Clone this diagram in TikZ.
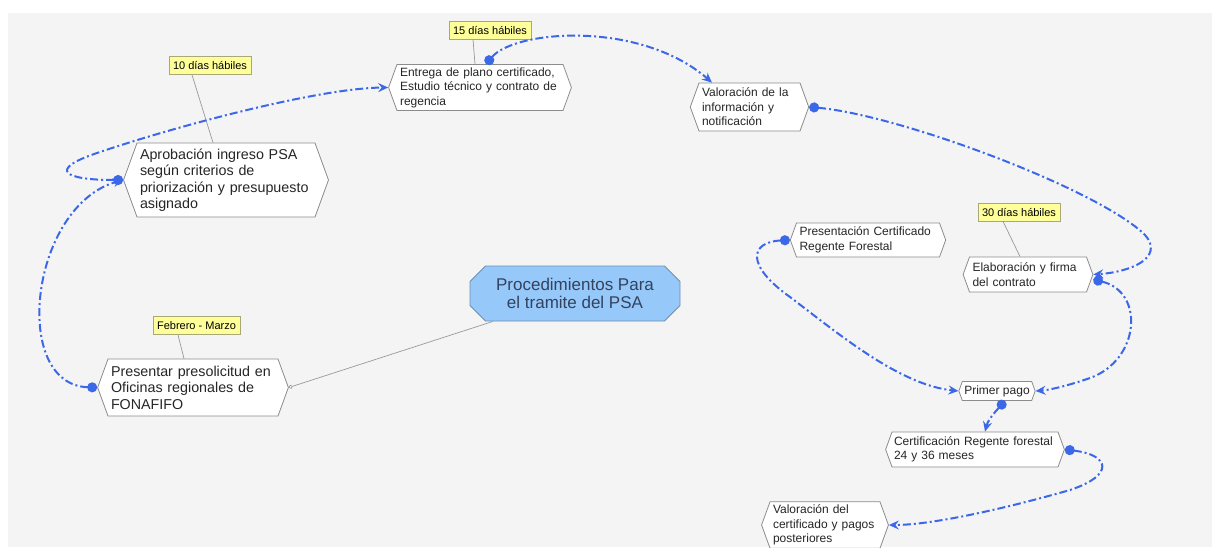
\documentclass[tikz,border=0pt]{standalone}
\usepackage{fontspec}
\setmainfont{Liberation Sans}
\usetikzlibrary{shapes.symbols,shapes.misc,arrows.meta}
\definecolor{bggray}{HTML}{F4F4F4}
\definecolor{flowblue}{HTML}{3B68E8}
\definecolor{boxgray}{HTML}{8C8C8C}
\definecolor{txtgray}{HTML}{262626}
\definecolor{notefill}{HTML}{FFFF99}
\definecolor{noteline}{HTML}{A8A878}
\definecolor{mainfill}{HTML}{96C8FA}
\definecolor{mainline}{HTML}{6D8FB0}
\definecolor{maintext}{HTML}{33435E}
\begin{document}
\begin{tikzpicture}[x=1pt,y=-1pt,
    stepnode/.style={signal,signal to=east and west,signal pointer angle=140,draw=boxgray,line width=0.8pt,fill=white,
      text=txtgray,align=left,inner xsep=3pt,inner ysep=3pt},
    small/.style={stepnode,font=\fontsize{12}{14.5}\selectfont},
    big/.style={stepnode,font=\fontsize{14.3}{16.5}\selectfont},
    note/.style={draw=noteline,fill=notefill,line width=0.7pt,inner xsep=4pt,inner ysep=0pt,minimum height=18pt,
      font=\fontsize{11}{12}\selectfont,text=black},
    noteline/.style={draw=gray!80,line width=0.7pt},
    flow/.style={draw=flowblue,line width=2pt,dash pattern=on 8pt off 3pt on 2pt off 3pt,
      {Circle[length=10pt,fill=flowblue]}-{Stealth[length=10pt,width=9pt,inset=3.5pt,fill=flowblue]}}]
  \useasboundingbox (0,0) rectangle (1212,547);
  \fill[white] (0,0) rectangle (1212,547);
  \fill[bggray] (8,13) rectangle (1212,547);

  % main node
  \node[chamfered rectangle,chamfered rectangle xsep=12pt,draw=mainline,fill=mainfill,line width=0.8pt,
    minimum width=210pt,minimum height=55pt,align=center,text=maintext,
    font=\fontsize{17}{18.5}\selectfont] (main) at (575,293.5) {Procedimientos Para\\el tramite del PSA};

  % steps
  \node[big,text width=164pt,minimum height=57pt] (presentar) at (193,387.5)
    {Presentar presolicitud en\\Oficinas regionales de\\FONAFIFO};
  \node[big,text width=172pt,minimum height=74pt] (aprob) at (226,180)
    {Aprobación ingreso PSA\\según criterios de\\priorización y presupuesto\\asignado};
  \node[small,text width=160pt,minimum height=45pt] (entrega) at (480,87.5)
    {Entrega de plano certificado,\\Estudio técnico y contrato de\\regencia};
  \node[small,text width=95pt,minimum height=48pt] (valor) at (749.5,107)
    {Valoración de la\\información y\\notificación};
  \node[small,text width=137pt,minimum height=34pt] (prescert) at (868,240)
    {Presentación Certificado\\Regente Forestal};
  \node[small,text width=111pt,minimum height=35pt] (elab) at (1028,274.5)
    {Elaboración y firma\\del contrato};
  \node[small,inner xsep=2pt,minimum height=19pt,inner ysep=1pt] (primer) at (997,391) {Primer pago};
  \node[small,text width=162pt,inner xsep=2pt,minimum height=35pt] (cert) at (975,449.5)
    {Certificación Regente forestal\\24 y 36 meses};
  \node[small,text width=104pt,minimum height=46pt] (valcert) at (825,525)
    {Valoración del\\certificado y pagos\\posteriores};

  % time notes
  \node[note] (lab10) at (210,65.5) {10 días hábiles};
  \node[note] (lab15) at (490,30) {15 días hábiles};
  \node[note] (lab30) at (1019,212) {30 días hábiles};
  \node[note] (labfeb) at (196.5,325.5) {Febrero - Marzo};
  \draw[noteline] ([xshift=-18pt]lab10.south) -- ([xshift=-13pt]aprob.north);
  \draw[noteline] ([xshift=-17pt]lab15.south) -- ([xshift=-5pt]entrega.north);
  \draw[noteline] ([xshift=-16pt]lab30.south) -- ([xshift=-8pt]elab.north);
  \draw[noteline] ([xshift=-18.5pt]labfeb.south) -- ([xshift=-9pt]presentar.north);

  \draw[noteline,-{Circle[open,length=4pt,fill=white]}] ([xshift=-82pt]main.south) -- (presentar.east);

  % flow
  \draw[flow] (presentar.west) .. controls (10,385) and (30,205) .. (aprob.west);
  \draw[flow] (aprob.west) .. controls (65,180) and (45,170) .. (100,152)
    .. controls (180,125) and (320,88) .. (entrega.west);
  \draw[flow] ([xshift=6pt]entrega.north) .. controls (515,30) and (640,20) .. ([xshift=-37.5pt]valor.north);
  \draw[flow] (valor.east) .. controls (900,115) and (1100,190) .. (1145,235)
    .. controls (1165,258) and (1130,272) .. (elab.east);
  \draw[flow] ([yshift=-5pt]elab.east) .. controls (1145,292) and (1140,360) .. (1090,378)
    .. controls (1070,385) and (1050,390) .. (primer.east);
  \draw[flow] (prescert.west) .. controls (750,242) and (745,265) .. (790,297)
    .. controls (840,335) and (900,385) .. (primer.west);
  \draw[flow] ([xshift=8pt]primer.south) .. controls (995,412) and (988,420) .. ([xshift=10pt]cert.north);
  \draw[flow] (cert.east) .. controls (1110,455) and (1115,475) .. (1070,490)
    .. controls (1000,510) and (930,525) .. (valcert.east);
\end{tikzpicture}
\end{document}
